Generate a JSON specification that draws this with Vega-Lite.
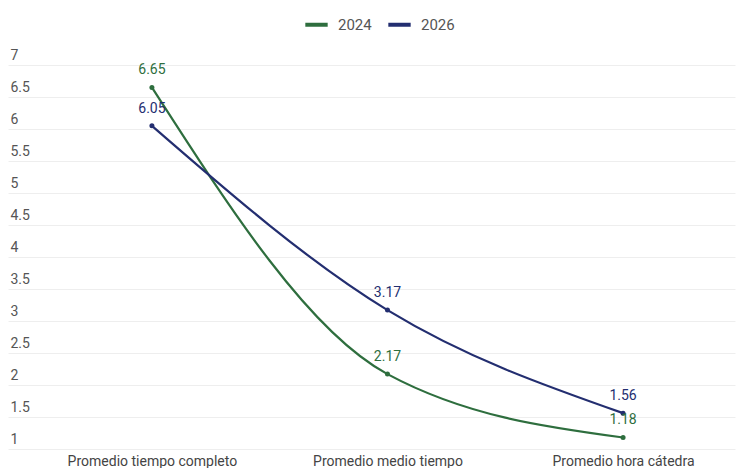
{
  "$schema": "https://vega.github.io/schema/vega-lite/v6.json",
  "autosize": "none",
  "width": 727,
  "height": 384,
  "padding": {"left": 8, "top": 65, "right": 9, "bottom": 19},
  "background": "white",
  "config": {
    "view": {"stroke": null},
    "font": "Roboto",
    "axis": {"labelFont": "Roboto", "labelColor": "#555555", "labelFontSize": 14}
  },
  "data": {
    "values": [
      {"categoria": "Promedio tiempo completo", "anio": "2024", "valor": 6.65},
      {"categoria": "Promedio medio tiempo", "anio": "2024", "valor": 2.17},
      {"categoria": "Promedio hora cátedra", "anio": "2024", "valor": 1.18},
      {"categoria": "Promedio tiempo completo", "anio": "2026", "valor": 6.05},
      {"categoria": "Promedio medio tiempo", "anio": "2026", "valor": 3.17},
      {"categoria": "Promedio hora cátedra", "anio": "2026", "valor": 1.56}
    ]
  },
  "encoding": {
    "x": {
      "field": "categoria",
      "type": "nominal",
      "sort": null,
      "scale": {"type": "point", "padding": 0.543, "align": 0.5625},
      "axis": {"title": null, "labelAngle": 0, "ticks": false, "domain": false, "grid": false, "labelPadding": 5, "labelColor": "#444444"}
    },
    "y": {
      "field": "valor",
      "type": "quantitative",
      "scale": {"domain": [1, 7], "nice": false, "zero": false},
      "axis": {
        "title": null,
        "values": [1, 1.5, 2, 2.5, 3, 3.5, 4, 4.5, 5, 5.5, 6, 6.5, 7],
        "format": "~g",
        "domain": false,
        "ticks": false,
        "grid": true,
        "gridColor": "#eeeeee",
        "labelAlign": "left",
        "labelBaseline": "bottom",
        "labelPadding": -2,
        "labelOffset": -3
      }
    },
    "color": {
      "field": "anio",
      "type": "nominal",
      "scale": {"domain": ["2024", "2026"], "range": ["#2e6e3e", "#232e70"]},
      "legend": {
        "title": null,
        "orient": "none",
        "direction": "horizontal",
        "legendX": 295,
        "legendY": -54,
        "symbolType": "stroke",
        "symbolStrokeWidth": 4,
        "symbolSize": 500,
        "labelFontSize": 15,
        "labelColor": "#555555",
        "labelOffset": 8,
        "columnPadding": 8
      }
    }
  },
  "layer": [
    {
      "mark": {"type": "line", "interpolate": "monotone", "strokeWidth": 2.2, "point": {"filled": true, "size": 25}}
    },
    {
      "mark": {"type": "text", "dy": -17, "baseline": "middle", "fontSize": 14},
      "encoding": {"text": {"field": "valor", "type": "quantitative", "format": ".2f"}}
    }
  ]
}
